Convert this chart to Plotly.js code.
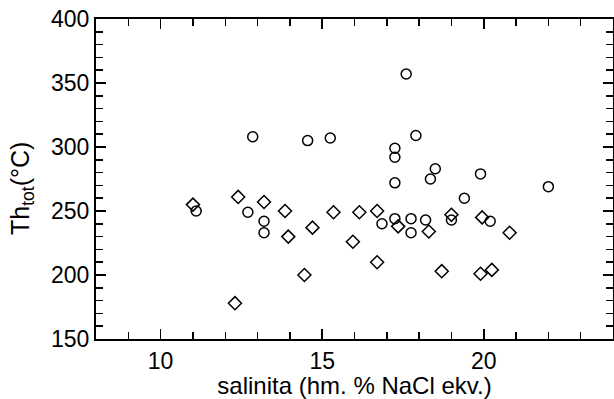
<!DOCTYPE html>
<html>
<head>
<meta charset="utf-8">
<script src="https://cdn.plot.ly/plotly-3.0.1.min.js"></script>
<style>html,body{margin:0;padding:0;background:#fff;}#chart{width:614px;height:399px;}</style>
</head>
<body>
<div id="chart"></div>
<script>
// Circles (open circle series)
const circleX = [11.1, 12.85, 12.7, 13.2, 13.2, 14.55, 15.25, 17.6, 17.9, 17.25, 17.25, 17.25, 18.5, 18.35, 19.9, 22.0, 19.4, 17.25, 16.85, 17.75, 17.75, 18.2, 19.0, 20.2];
const circleY = [250, 308, 249, 242, 233, 305, 307, 357, 309, 299, 292, 272, 283, 275, 279, 269, 260, 244, 240, 244, 233, 243, 243, 242];
// Diamonds (open diamond series)
const diamondX = [11.0, 12.4, 13.2, 13.85, 13.95, 14.7, 14.45, 12.3, 15.35, 16.15, 16.7, 15.95, 16.7, 17.35, 18.3, 19.0, 19.95, 20.8, 18.7, 19.9, 20.25];
const diamondY = [255, 261, 257, 250, 230, 237, 200, 178, 249, 249, 250, 226, 210, 238, 234, 247, 245, 233, 203, 201, 204];
// Axis tick labels and titles
const xTicks = [10, 15, 20];
const yTicks = [150, 200, 250, 300, 350, 400];
const xTitle = 'salinita (hm. % NaCl ekv.)';
const yTitle = 'Th<sub>tot</sub>(°C)';

const font = {family: 'Liberation Sans, Arial, sans-serif', color: '#000'};
const mk = (sym) => ({symbol: sym, size: 10, color: '#000', line: {color: '#000', width: 1.5}});

const traces = [
  {x: circleX, y: circleY, type: 'scatter', mode: 'markers', marker: mk('circle-open'), showlegend: false},
  {x: diamondX, y: diamondY, type: 'scatter', mode: 'markers', marker: mk('diamond-open'), showlegend: false}
];

const axisCommon = {
  showgrid: false, zeroline: false, showline: true, linecolor: '#000', linewidth: 2,
  mirror: 'ticks', ticks: 'inside', ticklen: 10, tickwidth: 1.5, tickcolor: '#000',
  tickfont: Object.assign({size: 23}, font)
};

const layout = {
  width: 614, height: 399,
  margin: {l: 96, r: 1, t: 19, b: 60},
  paper_bgcolor: '#fff', plot_bgcolor: '#fff',
  font: font,
  xaxis: Object.assign({}, axisCommon, {
    range: [8, 24], tickmode: 'array', tickvals: xTicks, ticktext: xTicks.map(String),
    minor: {dtick: 1, tick0: 0, ticks: 'inside', ticklen: 7, tickwidth: 1.5, tickcolor: '#000', showgrid: false},
    title: {text: xTitle, font: Object.assign({size: 24}, font), standoff: 9}
  }),
  yaxis: Object.assign({}, axisCommon, {
    range: [150, 400], tickmode: 'array', tickvals: yTicks, ticktext: yTicks.map(String),
    minor: {dtick: 10, tick0: 0, ticks: 'inside', ticklen: 7, tickwidth: 1.5, tickcolor: '#000', showgrid: false}
  }),
  annotations: [{
    text: yTitle, textangle: -90, showarrow: false,
    xref: 'paper', yref: 'paper', x: (22 - 96) / 517, y: (339 - 189) / 320,
    xanchor: 'center', yanchor: 'middle',
    font: Object.assign({size: 25}, font)
  }]
};

Plotly.newPlot('chart', traces, layout, {displayModeBar: false, staticPlot: true});
</script>
</body>
</html>
